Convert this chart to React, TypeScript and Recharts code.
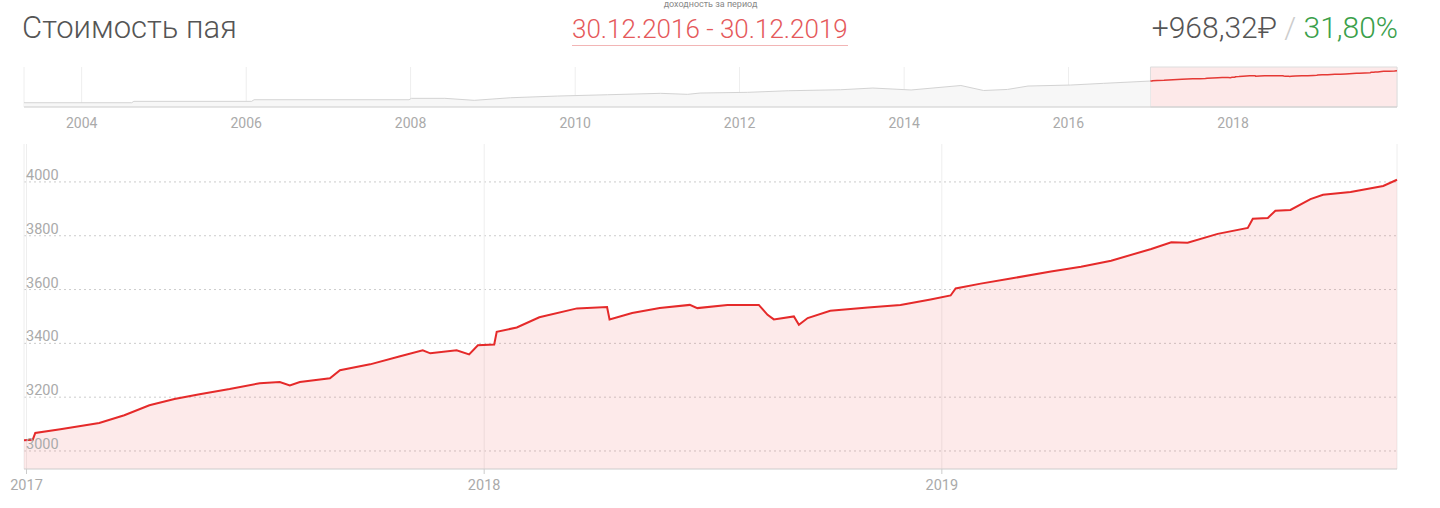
import React from 'react';
import { AreaChart, Area, Line, XAxis, YAxis, CartesianGrid, ReferenceArea } from 'recharts';

// цена пая за выбранный период (30.12.2016 - 30.12.2019)
const priceDates = [
  '2016-12-30', '2017-01-06', '2017-01-08', '2017-01-28', '2017-02-28', '2017-03-20', '2017-04-09', '2017-04-29',
  '2017-05-19', '2017-06-12', '2017-07-06', '2017-07-22', '2017-07-30', '2017-08-07', '2017-08-31', '2017-09-08',
  '2017-10-02', '2017-10-26', '2017-11-13', '2017-11-19', '2017-12-10', '2017-12-20', '2017-12-27', '2018-01-09',
  '2018-01-11', '2018-01-27', '2018-02-14', '2018-03-16', '2018-04-09', '2018-04-11', '2018-04-29', '2018-05-21',
  '2018-06-14', '2018-06-20', '2018-07-14', '2018-08-08', '2018-08-15', '2018-08-20', '2018-09-05', '2018-09-09',
  '2018-09-16', '2018-10-04', '2018-11-03', '2018-11-29', '2018-12-23', '2019-01-08', '2019-01-12', '2019-02-01',
  '2019-02-25', '2019-03-29', '2019-04-22', '2019-05-16', '2019-06-17', '2019-07-03', '2019-07-16', '2019-08-09',
  '2019-09-02', '2019-09-06', '2019-09-18', '2019-09-24', '2019-10-06', '2019-10-22', '2019-11-01', '2019-11-23',
  '2019-12-19', '2019-12-30',
];
const priceValues = [
  3040, 3042, 3067, 3081, 3104, 3133, 3170, 3193, 3211, 3230,
  3252, 3256, 3244, 3256, 3270, 3300, 3322, 3352, 3374, 3363,
  3374, 3359, 3393, 3396, 3443, 3459, 3497, 3530, 3535, 3489,
  3513, 3531, 3543, 3531, 3543, 3543, 3506, 3489, 3500, 3469,
  3494, 3521, 3533, 3543, 3563, 3578, 3604, 3622, 3641, 3667,
  3685, 3707, 3751, 3776, 3774, 3807, 3829, 3863, 3866, 3893,
  3896, 3936, 3952, 3963, 3985, 4008,
];

// история для навигатора (до начала периода)
const navDates = [
  '2003-04-20', '2004-08-10', '2004-08-20', '2006-01-25', '2006-02-05', '2007-12-25', '2008-01-05', '2008-06-01',
  '2008-10-10', '2009-03-20', '2009-10-15', '2010-05-25', '2011-01-15', '2011-05-15', '2011-07-10', '2012-02-05',
  '2012-08-05', '2013-03-25', '2013-08-15', '2014-02-01', '2014-09-10', '2014-12-20', '2015-04-05', '2015-07-05',
  '2016-01-10', '2016-06-05', '2016-12-30',
];
const navValues = [
  1000, 1000, 1132, 1132, 1282, 1282, 1414, 1414, 1226, 1470,
  1630, 1752, 1884, 1790, 1912, 1978, 2128, 2222, 2382, 2200,
  2620, 2150, 2250, 2570, 2664, 2824, 3040,
];

const yTicks = [3000, 3200, 3400, 3600, 3800, 4000];
const yMin = 2933;
const yMax = 4141;
const mainYears = [2017, 2018, 2019];
const navYears = [2004, 2006, 2008, 2010, 2012, 2014, 2016, 2018];

const t = (s: string) => Date.parse(s);
const yearTs = (y: number) => Date.UTC(y, 0, 1);
const fmtYear = (v: number) => String(new Date(v).getUTCFullYear());

const mainData = priceDates.map((d, i) => ({ ts: t(d), value: priceValues[i] }));
const navData = [
  ...navDates.map((d, i) => ({ ts: t(d), hist: navValues[i] })),
  ...priceDates.map((d, i) => ({ ts: t(d), sel: priceValues[i] })),
];

const periodStart = t(priceDates[0]);
const periodEnd = t(priceDates[priceDates.length - 1]);

const FONT = 'Roboto, "Noto Sans", sans-serif';

// линии сетки только на тиках (без лишней линии по верхней границе)
const gridRows = (props: any) => {
  const top = props?.offset?.top ?? 144;
  const h = props?.offset?.height ?? 325;
  return yTicks.map((v) => top + (h * (yMax - v)) / (yMax - yMin));
};

// подписи оси Y внутри области графика, над линией сетки
const renderYTick = (props: any) => {
  const { y, payload } = props;
  return (
    <text key={payload.value} x={26} y={y - 2} fill="#aaa" fontSize={14.5} fontFamily={FONT}>
      {payload.value}
    </text>
  );
};

const App: React.FC = () => {
  return (
    <div style={{ position: 'absolute', left: 0, top: 0, width: 1440, height: 508, background: '#fff', fontFamily: FONT, overflow: 'hidden' }}>
      {/* заголовок */}
      <div style={{ position: 'absolute', left: 22, top: 12, fontSize: 31, lineHeight: '31px', fontWeight: 300, color: '#555', whiteSpace: 'nowrap' }}>
        Стоимость пая
      </div>
      <div style={{ position: 'absolute', left: 572, top: 0, width: 277, textAlign: 'center', fontSize: 9, lineHeight: '9px', color: '#888', whiteSpace: 'nowrap' }}>
        доходность за период
      </div>
      <div style={{ position: 'absolute', left: 572, top: 16, fontSize: 26, lineHeight: '26px', fontWeight: 300, color: '#e5595b', whiteSpace: 'nowrap', paddingBottom: 3, borderBottom: '1px solid #f2b5b5' }}>
        30.12.2016 - 30.12.2019
      </div>
      <div style={{ position: 'absolute', right: 42, top: 13, fontSize: 30, lineHeight: '30px', fontWeight: 300, whiteSpace: 'nowrap' }}>
        <span style={{ color: '#555' }}>+968,32₽</span>
        <span style={{ color: '#ccc' }}> / </span>
        <span style={{ color: '#3aa04a' }}>31,80%</span>
      </div>

      {/* навигатор */}
      <div style={{ position: 'absolute', left: 0, top: 60 }}>
        <AreaChart width={1440} height={80} data={navData} margin={{ top: 7, right: 43, bottom: 8, left: 24 }}>
          <CartesianGrid horizontal={false} stroke="#eee" />
          <XAxis
            dataKey="ts"
            type="number"
            scale="time"
            domain={[t('2003-04-20'), periodEnd]}
            ticks={navYears.map(yearTs)}
            tickFormatter={fmtYear}
            tick={{ fill: '#aaa', fontSize: 14, fontFamily: FONT }}
            tickLine={false}
            tickSize={6}
            tickMargin={5}
            axisLine={{ stroke: '#ccc' }}
            height={25}
          />
          <YAxis hide domain={[600, 4360]} />
          <ReferenceArea x1={periodStart} x2={periodEnd} fill="#fde9e9" fillOpacity={1} stroke="#ddd" />
          <Area type="linear" dataKey="hist" stroke="#d3d3d3" strokeWidth={1} fill="#f7f7f7" fillOpacity={1} dot={false} isAnimationActive={false} />
          <Line type="linear" dataKey="sel" stroke="#e53935" strokeWidth={1.5} dot={false} isAnimationActive={false} />
        </AreaChart>
      </div>

      {/* основной график */}
      <div style={{ position: 'absolute', left: 0, top: 0 }}>
        <AreaChart width={1440} height={508} data={mainData} margin={{ top: 144, right: 43, bottom: 9, left: 23 }}>
          <CartesianGrid
            vertical={false}
            stroke="#ccc"
            strokeDasharray="2 3"
            horizontalCoordinatesGenerator={gridRows}
          />
          <CartesianGrid horizontal={false} stroke="#eee" />
          <XAxis
            dataKey="ts"
            type="number"
            scale="time"
            domain={[periodStart, periodEnd]}
            ticks={mainYears.map(yearTs)}
            tickFormatter={fmtYear}
            tick={{ fill: '#aaa', fontSize: 14.5, fontFamily: FONT }}
            tickLine={{ stroke: '#ccc' }}
            tickSize={5}
            tickMargin={6}
            axisLine={{ stroke: '#ccc' }}
            height={30}
          />
          <YAxis
            width={1}
            domain={[yMin, yMax]}
            ticks={yTicks}
            interval={0}
            axisLine={false}
            tickLine={false}
            tick={renderYTick}
          />
          <Area
            type="linear"
            dataKey="value"
            stroke="#e52a2a"
            strokeWidth={2}
            fill="#ef5350"
            fillOpacity={0.12}
            dot={false}
            isAnimationActive={false}
          />
        </AreaChart>
      </div>
    </div>
  );
};

export default App;
